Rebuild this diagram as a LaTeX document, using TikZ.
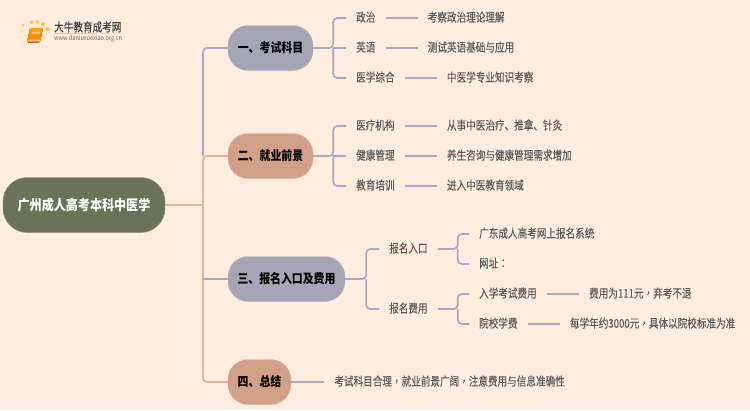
\documentclass[tikz,border=0pt]{standalone}
\usepackage{fontspec}
\setmainfont[FakeStretch=0.85]{Noto Sans CJK SC}
\newfontfamily\itemfont[FakeStretch=0.8,FakeBold=0.12]{Noto Sans CJK SC}
\newfontfamily\punctfont[FakeStretch=0.8,FakeBold=0.12]{Noto Sans CJK TC}
\usetikzlibrary{positioning, calc}
\definecolor{paper}{HTML}{FFEEE0}
\definecolor{slate}{HTML}{A5A5B5}
\definecolor{clay}{HTML}{D2A086}
\definecolor{moss}{HTML}{6A7358}
\definecolor{slateline}{HTML}{A9A9C0}
\definecolor{clayline}{HTML}{E2B49C}
\definecolor{inktext}{HTML}{5A5A5A}
\newcommand{\Fw}[1]{{\punctfont #1}}
\tikzset{
    rootbox/.style={draw=clayline!40!moss, line width=0.4pt, fill=moss, text=white, rounded corners=24pt, minimum width=162pt, minimum height=55pt, inner sep=0pt, font=\fontsize{14.2}{16}\selectfont\bfseries},
    topic/.style={rounded corners=20pt, minimum height=45pt, inner sep=0pt, text=black, font=\fontsize{12.8}{15}\selectfont\bfseries},
    topicA/.style={topic, fill=slate, draw=slate!70!paper},
    topicB/.style={topic, fill=clay, draw=clay!70!paper},
    item/.style={inner xsep=10pt, inner ysep=2pt, text height=10pt, text depth=2.6pt, text=inktext, font=\fontsize{12}{14}\itemfont},
    link/.style={draw=slateline, line width=1.7pt, rounded corners=4pt},
    trunk/.style={draw=clayline, line width=1.8pt, rounded corners=4pt},
}

\begin{document}
\begin{tikzpicture}[x=1pt, y=-1pt, node distance=32pt]
    \useasboundingbox (0,0) rectangle (750,410);
    \fill[paper] (0,0) rectangle (750,410);

    % logo
    \foreach \px/\py/\ps/\pc in {23/25/3.5/FFC94D, 31.5/22.5/4/FFC94D, 37.5/22/4/FFC94D, 43/24/4/FFC94D, 47.5/29/4.5/FFC94D, 22/31/2.5/FFD98A, 21.5/37/2.5/FFE3A8, 23.5/42.5/2.5/FFE3A8} {
      \definecolor{dotc}{HTML}{\pc}
      \fill[dotc] (\px,\py) circle ({\ps/2});
    }
    \fill[top color=orange!70!yellow, bottom color=orange!95!red, rounded corners=1.5pt] (30,28) -- (43,28) -- (40,42.5) -- (27,42.5) -- cycle;
    \fill[orange!35!paper] (32,31.5) -- (40,31.5) -- (39.5,33.5) -- (31.5,33.5) -- cycle;
    \fill[orange!35!paper] (28.5,39.5) -- (40.5,39.5) -- (40,41) -- (28.2,41) -- cycle;
    \node[anchor=west, inner sep=0pt, text=black!75, font=\fontsize{12}{13}\itemfont] (logotext) at (54,27) {大牛教育成考网};
    \node[anchor=west, inner sep=0pt, text=black!60, font=\fontsize{6.6}{8}\selectfont] (logourl) at (54,38.5) {www.daniuxuexiao.org.cn};
    \shade[left color=black!20!paper, right color=paper] (54,33) rectangle (132,33.6);

    % root and topics
    \node[rootbox] (root) at (84,205) {广州成人高考本科中医学};
    \node[topicA, minimum width=85pt] (kemu) at (270.5,48) {一、考试科目};
    \node[topicB, minimum width=85pt] (jiuye) at (270.5,156) {二、就业前景};
    \node[topicA, minimum width=117pt] (baoming) at (286.5,279) {三、报名入口及费用};
    \node[topicB, minimum width=63pt] (zongjie) at (259.5,382) {四、总结};

    \coordinate (hub) at (203,205);
    \draw[link] (kemu.west) -| (hub |- jiuye.west);
    \draw[trunk] (root.east) -- (hub);
    \draw[trunk] (jiuye.west) -| (hub |- zongjie.west) -- (zongjie.west);
    \draw[link] (baoming.west) -- (hub |- baoming.west);

    % kemu
    \node[item, anchor=west] (zhengzhi) at (346,18) {政治};
    \node[item, right=of zhengzhi] (zhengzhiR) {考察政治理论理解};
    \node[item, anchor=west] (yingyu) at (346,48) {英语};
    \node[item, right=of yingyu] (yingyuR) {测试英语基础与应用};
    \node[item, anchor=west] (zonghe) at (346,78) {医学综合};
    \node[item, right=of zonghe] (zongheR) {中医学专业知识考察};
    \coordinate[right=20pt of kemu] (kemuJ);
    \draw[link] (kemu) -- (kemuJ) |- (zhengzhi.west);
    \draw[link] (kemuJ) -- (yingyu.west);
    \draw[link] (kemuJ) |- (zonghe.west);
    \draw[link] (zhengzhi) -- (zhengzhiR);
    \draw[link] (yingyu) -- (yingyuR);
    \draw[link] (zonghe) -- (zongheR);

    % jiuye
    \node[item, anchor=west] (jigou) at (346,126) {医疗机构};
    \node[item, right=of jigou] (jigouR) {从事中医治疗、推拿、针灸};
    \node[item, anchor=west] (jiankang) at (346,156) {健康管理};
    \node[item, right=of jiankang] (jiankangR) {养生咨询与健康管理需求增加};
    \node[item, anchor=west] (peixun) at (346,186) {教育培训};
    \node[item, right=of peixun] (peixunR) {进入中医教育领域};
    \coordinate[right=20pt of jiuye] (jiuyeJ);
    \draw[link] (jiuye) -- (jiuyeJ) |- (jigou.west);
    \draw[link] (jiuyeJ) -- (jiankang.west);
    \draw[link] (jiuyeJ) |- (peixun.west);
    \draw[link] (jigou) -- (jigouR);
    \draw[link] (jiankang) -- (jiankangR);
    \draw[link] (peixun) -- (peixunR);

    % baoming
    \node[item, anchor=west] (rukou) at (379,249) {报名入口};
    \node[item, anchor=west] (feiyong) at (379,309) {报名费用};
    \node[item, anchor=west] (xitong) at (469,234) {广东成人高考网上报名系统};
    \node[item, anchor=west] (wangzhi) at (469,264) {网址\Fw{：}};
    \node[item, anchor=west] (ruxue) at (469,294) {入学考试费用};
    \node[item, right=of ruxue] (ruxueR) {费用为111元\Fw{，}弃考不退};
    \node[item, anchor=west] (xuefei) at (469,324) {院校学费};
    \node[item, right=of xuefei] (xuefeiR) {每学年约3000元\Fw{，}具体以院校标准为准};
    \coordinate[right=21pt of baoming] (baomingJ);
    \draw[link] (baoming) -- (baomingJ) |- (rukou.west);
    \draw[link] (baomingJ) |- (feiyong.west);
    \coordinate[right=20pt of rukou] (rukouJ);
    \coordinate[right=20pt of feiyong] (feiyongJ);
    \draw[link] (rukou) -- (rukouJ) |- (xitong.west);
    \draw[link] (rukouJ) |- (wangzhi.west);
    \draw[link] (feiyong) -- (feiyongJ) |- (ruxue.west);
    \draw[link] (feiyongJ) |- (xuefei.west);
    \draw[link] (ruxue) -- (ruxueR);
    \draw[link] (xuefei) -- (xuefeiR);

    % zongjie
    \node[item, right=33pt of zongjie] (zongjieR) {考试科目合理\Fw{，}就业前景广阔\Fw{，}注意费用与信息准确性};
    \draw[link] (zongjie) -- (zongjieR);
\end{tikzpicture}
\end{document}
